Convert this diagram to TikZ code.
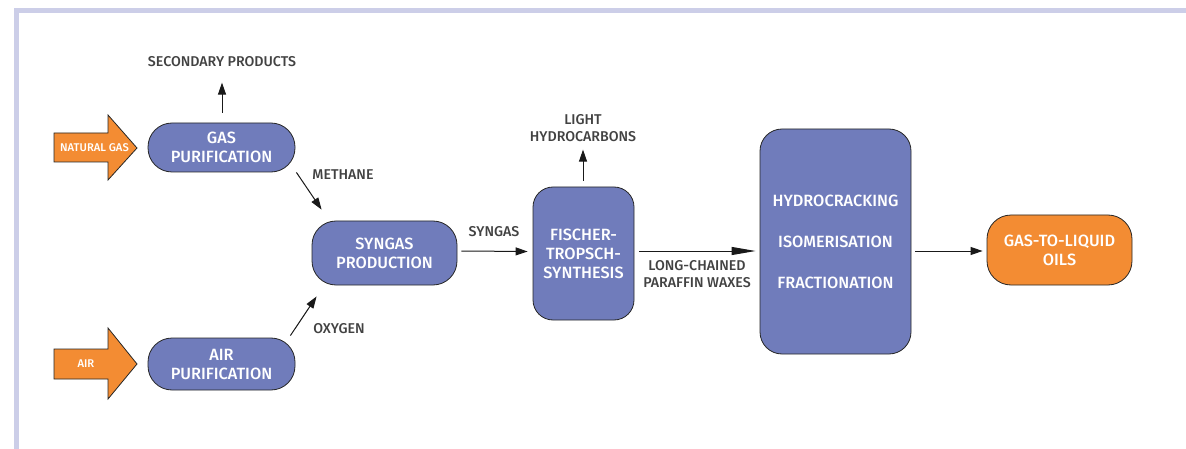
\documentclass[tikz,border=0pt]{standalone}
\usepackage{fontspec}
\setmainfont{Fira Sans}[UprightFont={* Medium}]
\usetikzlibrary{arrows.meta,calc}
\definecolor{boxblue}{RGB}{112,124,187}
\definecolor{gtlorange}{RGB}{243,140,51}
\definecolor{labgray}{RGB}{66,66,66}
\definecolor{framelav}{RGB}{204,206,232}
\newcommand{\boxfnt}{\fontsize{16.3}{19}\selectfont}
\newcommand{\labfnt}{\fontsize{14.2}{17}\selectfont}
\newcommand{\inputfnt}{\fontsize{11.2}{13}\selectfont}
\tikzset{
  proc/.style={draw=black!85, line width=0.8pt, fill=boxblue, text=white, align=center, font=\boxfnt, inner sep=0pt},
  prod/.style={proc, fill=gtlorange},
  lab/.style={text=labgray, align=center, font=\labfnt, inner sep=1pt},
  arr/.style={draw=black!90, line width=1pt, -{Triangle[length=12pt,width=8pt]}},
  longarr/.style={draw=black!90, line width=1pt, -{Triangle[length=24pt,width=8pt]}},
  feed/.style={draw=black!85, line width=0.8pt, fill=gtlorange},
  feedtxt/.style={text=white, font=\inputfnt, inner sep=0pt}
}
\begin{document}
\begin{tikzpicture}[x=1pt,y=-1pt]
\useasboundingbox (0,0) rectangle (1186,449);
% frame
\draw[framelav, line width=4.5pt] (16.5,449) -- (16.5,10.5) -- (1186,10.5);

% feed arrows
\draw[feed] (54,133) -- (108,133) -- (108,115) -- (137,148) -- (108,180) -- (108,162) -- (54,162) -- cycle;
\node[feedtxt] (ngtxt) at (94.5,148) {NATURAL GAS};
\draw[feed] (54,349) -- (108,349) -- (108,328) -- (137,364) -- (108,399) -- (108,379) -- (54,379) -- cycle;
\node[feedtxt] (airtxt) at (86,364) {AIR};

% process boxes
\node[proc, rounded corners=24pt, minimum width=147pt, minimum height=49pt] (gp) at (221.5,147.5) {GAS\\PURIFICATION};
\node[proc, rounded corners=24pt, minimum width=147pt, minimum height=52pt] (ap) at (221.5,364) {AIR\\PURIFICATION};
\node[proc, rounded corners=24pt, minimum width=145pt, minimum height=64pt] (sp) at (384.5,253) {SYNGAS\\PRODUCTION};
\node[proc, rounded corners=20pt, minimum width=101pt, minimum height=133pt] (ft) at (583.5,253.5) {FISCHER-\\TROPSCH-\\SYNTHESIS};
\node[proc, rounded corners=22pt, minimum width=151pt, minimum height=225pt] (hc) at (835.5,241.5) {HYDROCRACKING\\[22pt]ISOMERISATION\\[22pt]FRACTIONATION};
\node[prod, rounded corners=24pt, minimum width=145pt, minimum height=70pt] (gtl) at (1059.5,250) {GAS-TO-LIQUID\\OILS};

% labels
\node[lab] (sec) at (222,62) {SECONDARY PRODUCTS};
\node[lab] (meth) at (343,175) {METHANE};
\node[lab] (oxy) at (339,329) {OXYGEN};
\node[lab] (syn) at (494,232) {SYNGAS};
\node[lab] (lhc) at (583,128.5) {LIGHT\\HYDROCARBONS};
\node[lab] (lcp) at (697,274.5) {LONG-CHAINED\\PARAFFIN WAXES};

% connectors
\draw[arr] ($(gp.north)+(0.5,-10)$) -- ($(gp.north)+(0.5,-40)$);
\draw[arr] ($(gp.south east)+(1,0)$) -- ($(sp.north west)+(10,-11)$);
\draw[arr] ($(ap.north east)+(-5,-2)$) -- ($(sp.south west)+(5,11)$);
\draw[arr] ($(sp.east)+(4,-2)$) -- ($(ft.west)+(-5,-2)$);
\draw[arr] ($(ft.north)+(-0.5,-6)$) -- ($(ft.north)+(-0.5,-37)$);
\draw[longarr] ($(ft.east)+(5,-2.5)$) -- ($(hc.west)+(-4,9.5)$);
\draw[arr] ($(hc.east)+(4,9.5)$) -- ($(gtl.west)+(-4,1)$);
\end{tikzpicture}
\end{document}
